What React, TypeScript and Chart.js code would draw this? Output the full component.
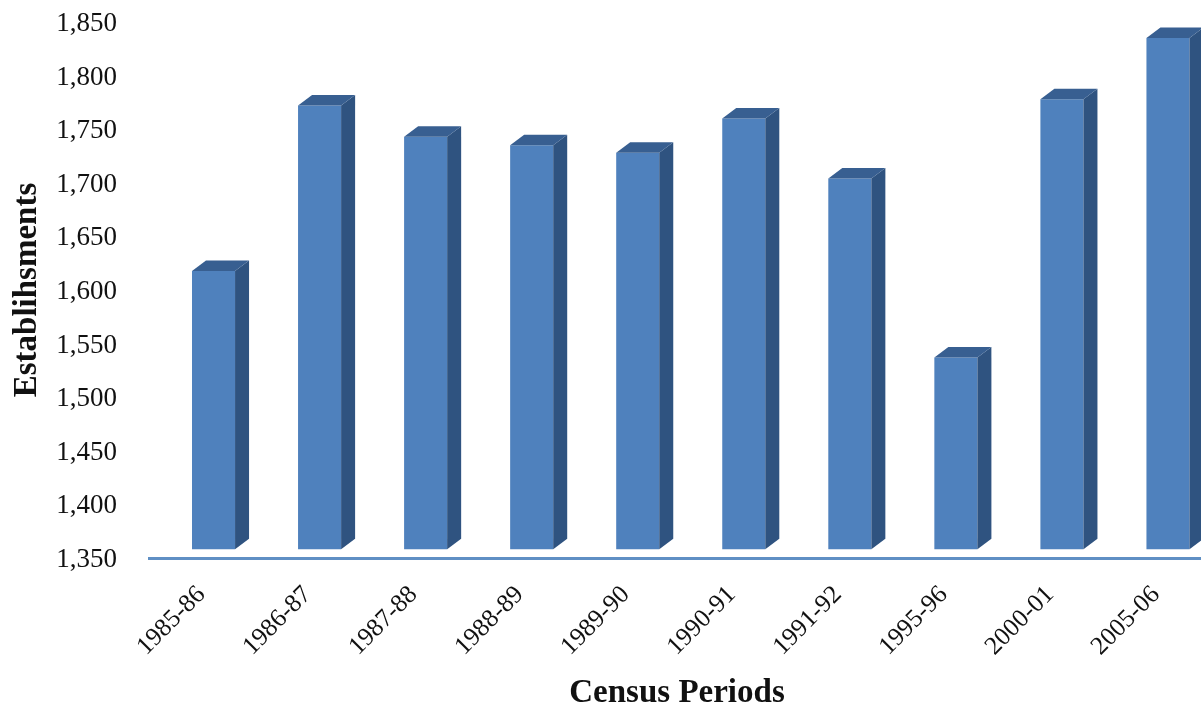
import React, { useEffect, useRef } from "react";
import { Chart, registerables } from "chart.js";

Chart.register(...registerables);

const categories = ["1985-86", "1986-87", "1987-88", "1988-89", "1989-90", "1990-91", "1991-92", "1995-96", "2000-01", "2005-06"];
const establishments = [1617.7, 1772, 1743, 1735, 1728, 1760, 1704, 1537, 1778, 1835];
const yMin = 1350;
const yMax = 1850;
const yStep = 50;
const barFloor = 1358.1;

const SERIF = "'Liberation Serif', serif";
const DEPTH_X = 14;
const DEPTH_Y = 10.5;

const bars3d = {
  id: "bars3d",
  afterDatasetsDraw(chart: any) {
    const { ctx } = chart;
    chart.getDatasetMeta(0).data.forEach((el: any) => {
      const l = el.x - el.width / 2;
      const r = el.x + el.width / 2;
      ctx.save();
      ctx.fillStyle = "#2f5380";
      ctx.beginPath();
      ctx.moveTo(r, el.y);
      ctx.lineTo(r + DEPTH_X, el.y - DEPTH_Y);
      ctx.lineTo(r + DEPTH_X, el.base - DEPTH_Y);
      ctx.lineTo(r, el.base);
      ctx.closePath();
      ctx.fill();
      ctx.fillStyle = "#385f91";
      ctx.beginPath();
      ctx.moveTo(l, el.y);
      ctx.lineTo(l + DEPTH_X, el.y - DEPTH_Y);
      ctx.lineTo(r + DEPTH_X, el.y - DEPTH_Y);
      ctx.lineTo(r, el.y);
      ctx.closePath();
      ctx.fill();
      ctx.restore();
    });
  },
};

const xTitle = {
  id: "xTitle",
  afterDraw(chart: any) {
    const { ctx } = chart;
    ctx.save();
    ctx.font = `bold 33px ${SERIF}`;
    ctx.fillStyle = "#111";
    ctx.textAlign = "center";
    ctx.textBaseline = "middle";
    ctx.fillText("Census Periods", 677, 693);
    ctx.restore();
  },
};

export default function App() {
  const ref = useRef<HTMLCanvasElement>(null);
  useEffect(() => {
    const chart = new Chart(ref.current!, {
      type: "bar",
      data: {
        labels: categories,
        datasets: [
          {
            data: establishments,
            base: barFloor,
            backgroundColor: "#4f81bd",
            categoryPercentage: 1,
            barPercentage: 0.406,
          },
        ],
      },
      plugins: [bars3d, xTitle],
      options: {
        responsive: false,
        animation: false,
        layout: { padding: { top: 22 } },
        plugins: { legend: { display: false }, tooltip: { enabled: false } },
        scales: {
          x: {
            grid: { display: false },
            border: { display: false },
            ticks: {
              font: { family: SERIF, size: 25.5 },
              color: "#111",
              minRotation: 45,
              maxRotation: 45,
              autoSkip: false,
              padding: 14,
              labelOffset: -12,
            },
            afterFit: (s: any) => {
              s.height = 153;
              s.paddingTop = 0;
              s.paddingBottom = 0;
            },
          },
          y: {
            min: yMin,
            max: yMax,
            border: { display: false },
            grid: {
              tickLength: 12.5,
              lineWidth: 3,
              color: (c: any) => (c.tick && c.tick.value === yMin ? "#5f8fc4" : "transparent"),
            },
            ticks: {
              stepSize: yStep,
              font: { family: SERIF, size: 27 },
              color: "#111",
              padding: 31,
              labelOffset: 2,
              callback: (v: any) => Number(v).toLocaleString("en-US"),
            },
            title: {
              display: true,
              text: "Establihsments",
              font: { family: SERIF, size: 33, weight: "bold" },
              color: "#111",
              padding: { top: 8, bottom: 0 },
            },
            afterFit: (s: any) => {
              s.width = 160.5;
              s.paddingTop = 0;
              s.paddingBottom = 0;
            },
          },
        },
      },
    } as any);
    return () => chart.destroy();
  }, []);
  return (
    <div style={{ position: "absolute", left: 0, top: 0, width: 1201, height: 711, overflow: "hidden", background: "#fff" }}>
      <canvas ref={ref} width={1221} height={711} style={{ display: "block" }} />
    </div>
  );
}
